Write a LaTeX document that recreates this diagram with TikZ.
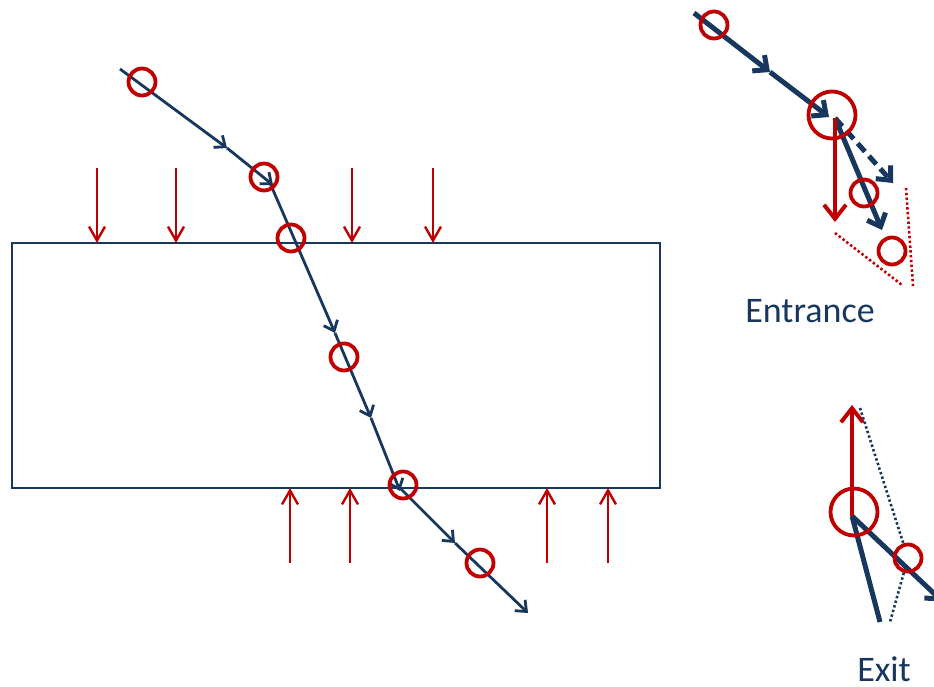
\documentclass[tikz,border=0pt]{standalone}
\usepackage{fontspec}
\setmainfont{Carlito}
\usetikzlibrary{arrows.meta}
\definecolor{raynavy}{HTML}{17375E}
\definecolor{forcered}{HTML}{C00000}

\begin{document}
\begin{tikzpicture}[x=1pt,y=-1pt,
    ray/.style={draw=raynavy, line width=2.8pt, -{Straight Barb[length=9pt,width=15pt]}},
    bigray/.style={draw=raynavy, line width=5pt, -{Straight Barb[length=11pt,width=20pt]}},
    push/.style={draw=forcered, line width=2.4pt, -{Straight Barb[length=14pt,width=16pt]}},
    bigpush/.style={draw=forcered, line width=4pt, -{Straight Barb[length=14pt,width=22pt]}},
    spot/.style={circle, draw=forcered, line width=3.8pt, minimum size=27pt, inner sep=0pt},
    bigspot/.style={spot, minimum size=47pt},
    guide/.style={line width=2.6pt, dash pattern=on 2.4pt off 2.4pt},
    caption/.style={font=\fontsize{36}{40}\selectfont, text=raynavy, anchor=base, inner sep=0pt}]
  \useasboundingbox (0,0) rectangle (934,686);
  \clip (0,0) rectangle (934,686);

  % the slab
  \draw[raynavy, line width=2.4pt] (12,243) rectangle (660,488);

  % surface forces
  \foreach \x in {97,176,352,433}
    \draw[push] (\x,168) -- (\x,243);
  \foreach \x in {290,350,547,608}
    \draw[push] (\x,563) -- (\x,488);

  % path of the particle
  \coordinate (p0) at (120,69);
  \coordinate (m1) at (227,148);
  \coordinate (p1) at (273,185);
  \coordinate (q1) at (270,183);
  \coordinate (m2) at (335,333);
  \coordinate (m3) at (371,418);
  \coordinate (p2) at (400,491);
  \coordinate (q2) at (400,488);
  \coordinate (m4) at (455,543);
  \coordinate (p3) at (528,613);
  \draw[ray] (p0) -- (m1);
  \draw[ray] (m1) -- (p1);
  \draw[ray] (q1) -- (m2);
  \draw[ray] (m2) -- (m3);
  \draw[ray] (m3) -- (p2);
  \draw[ray] (q2) -- (m4);
  \draw[ray] (m4) -- (p3);

  \node[spot] (c1) at (142,82) {};
  \node[spot] (c2) at (264,177) {};
  \node[spot] (c3) at (291,238) {};
  \node[spot] (c4) at (344,357) {};
  \node[spot] (c5) at (403,485) {};
  \node[spot] (c6) at (480,563) {};

  % entrance
  \coordinate (e0) at (694,13);
  \coordinate (em) at (770,72);
  \coordinate (ep) at (829,117);
  \coordinate (eo) at (835,118);
  \coordinate (ed) at (893,183);
  \coordinate (es) at (882,230);
  \coordinate (ef) at (835,222);
  \draw[bigray] (e0) -- (em);
  \draw[bigray] (em) -- (ep);
  \draw[bigray, dash pattern=on 11pt off 6pt] (eo) -- (ed);
  \draw[bigray] (eo) -- (es);
  \draw[bigpush] (eo) -- (ef);
  \node[spot] (ea) at (714,25) {};
  \node[bigspot] (eb) at (832,115) {};
  \node[spot] (ec) at (864,193) {};
  \node[spot] (ee) at (892,251) {};
  \draw[guide, forcered] (835,233) -- (902,285);
  \draw[guide, forcered] (906,188) -- (913,286);
  \node[caption] (entrance) at (810,322) {Entrance};

  % exit
  \coordinate (xo) at (852,516);
  \coordinate (xf) at (852,405);
  \coordinate (xi) at (880,622);
  \coordinate (xe) at (942,601);
  \coordinate (xt) at (860,408);
  \coordinate (xb) at (890,622);
  \draw[raynavy, line width=5pt] (xi) -- (xo);
  \draw[bigray] (xo) -- (xe);
  \draw[bigpush] (xo) -- (xf);
  \node[bigspot] (xa) at (854,512) {};
  \node[spot] (xc) at (908,558) {};
  \draw[guide, raynavy] (xt) -- (xc) -- (xb);
  \node[caption] (exit) at (884,681) {Exit};
\end{tikzpicture}
\end{document}
